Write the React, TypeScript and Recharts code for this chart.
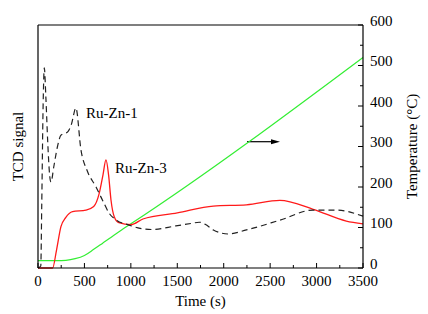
import { ComposedChart, Line, XAxis, YAxis } from 'recharts';

const timeZn1 = [0, 30, 40, 55, 68, 85, 105, 125, 140, 170, 210, 247, 320, 360, 408, 463, 530, 625, 700, 767, 840, 980, 1100, 1235, 1485, 1650, 1735, 1800, 1888, 2050, 2245, 2605, 2963, 3210, 3500];
const signalZn1 = [0, 5, 150, 400, 494, 420, 310, 230, 212, 250, 300, 328, 336, 355, 395, 291, 240, 200, 165, 135, 119, 106, 98, 95, 104, 110, 113, 108, 94, 84, 94, 118, 143, 143, 128];

const timeZn3 = [0, 157, 200, 247, 300, 372, 516, 600, 660, 700, 732, 760, 786, 822, 870, 1000, 1130, 1500, 1888, 2245, 2605, 2963, 3320, 3500];
const signalZn3 = [0, 0, 45, 102, 125, 139, 143, 152, 185, 230, 267, 230, 168, 126, 112, 107, 121, 136, 153, 156, 167, 145, 116, 109];

const timeTemp = [0, 200, 300, 400, 500, 600, 700, 800, 900, 1000, 3500];
const temperature = [18, 18, 19, 23, 31, 46, 62, 78, 94, 109, 520];

const xTicks = [0, 250, 500, 750, 1000, 1250, 1500, 1750, 2000, 2250, 2500, 2750, 3000, 3250, 3500];
const tempTicks = [0, 50, 100, 150, 200, 250, 300, 350, 400, 450, 500, 550, 600];

const zn1 = timeZn1.map((t, i) => ({ t, v: signalZn1[i] }));
const zn3 = timeZn3.map((t, i) => ({ t, v: signalZn3[i] }));
const temp = timeTemp.map((t, i) => ({ t, v: temperature[i] }));

const FONT = 'Liberation Serif';
const textStyle = { fontFamily: FONT, fontSize: 15, fill: '#000' };

const XTick = ({ x, y, payload }: any) => {
  const major = payload.value % 500 === 0;
  return (
    <g>
      <line x1={x} x2={x} y1={y} y2={y - (major ? 5 : 3)} stroke="#000" />
      {major && (
        <text x={x} y={y + 18} textAnchor="middle" fontFamily={FONT} fontSize={15} fill="#000">
          {payload.value}
        </text>
      )}
    </g>
  );
};

const TempTick = ({ x, y, payload }: any) => {
  const major = payload.value % 100 === 0;
  return (
    <g>
      <line x1={x} x2={x - (major ? 5 : 3)} y1={y} y2={y} stroke="#000" />
      {major && (
        <text x={x + 7} y={y + 0.5} textAnchor="start" fontFamily={FONT} fontSize={15} fill="#000">
          {payload.value}
        </text>
      )}
    </g>
  );
};

export default function App() {
  return (
    <div style={{ position: 'absolute', left: 0, top: 0, background: '#fff' }}>
      <ComposedChart width={428} height={314} margin={{ top: 0, right: 0, bottom: 0, left: 0 }}>
        <XAxis
          dataKey="t"
          type="number"
          domain={[0, 3500]}
          ticks={xTicks}
          interval={0}
          height={46}
          tickSize={0}
          tickMargin={0}
          tickLine={false}
          tick={<XTick />}
          axisLine={{ stroke: '#000', strokeWidth: 1.2 }}
          label={{ value: 'Time (s)', position: 'center', dy: 10, style: textStyle }}
        />
        <XAxis
          xAxisId="top"
          orientation="top"
          type="number"
          domain={[0, 3500]}
          height={25}
          tick={false}
          tickLine={false}
          axisLine={{ stroke: '#000', strokeWidth: 1.2 }}
        />
        <YAxis
          yAxisId="left"
          type="number"
          domain={[0, 600]}
          width={38}
          tick={false}
          tickLine={false}
          axisLine={{ stroke: '#000', strokeWidth: 1.2 }}
          label={{ value: 'TCD signal', angle: -90, position: 'center', dx: -1, style: textStyle }}
        />
        <YAxis
          yAxisId="right"
          orientation="right"
          type="number"
          domain={[0, 600]}
          ticks={tempTicks}
          interval={0}
          width={65}
          tickSize={0}
          tickMargin={0}
          tickLine={false}
          tick={<TempTick />}
          axisLine={{ stroke: '#000', strokeWidth: 1.2 }}
          label={{ value: 'Temperature (°C)', angle: -90, position: 'center', dx: 16, style: textStyle }}
        />
        <Line
          yAxisId="right"
          data={temp}
          dataKey="v"
          type="monotone"
          stroke="#33ee33"
          strokeWidth={1.2}
          dot={false}
          isAnimationActive={false}
        />
        <Line
          yAxisId="left"
          data={zn3}
          dataKey="v"
          type="monotone"
          stroke="#ff1a1a"
          strokeWidth={1.3}
          dot={false}
          isAnimationActive={false}
        />
        <Line
          yAxisId="left"
          data={zn1}
          dataKey="v"
          type="monotone"
          stroke="#222"
          strokeWidth={1.2}
          strokeDasharray="6 4"
          dot={false}
          isAnimationActive={false}
        />
        <text x={86} y={118} fontFamily={FONT} fontSize={15} fill="#000">Ru-Zn-1</text>
        <text x={115} y={173} fontFamily={FONT} fontSize={15} fill="#000">Ru-Zn-3</text>
        <line x1={247} x2={272} y1={141.7} y2={141.7} stroke="#000" strokeWidth={1.2} />
        <polygon points="271,139.2 280,141.7 271,144.2" fill="#000" />
      </ComposedChart>
    </div>
  );
}
